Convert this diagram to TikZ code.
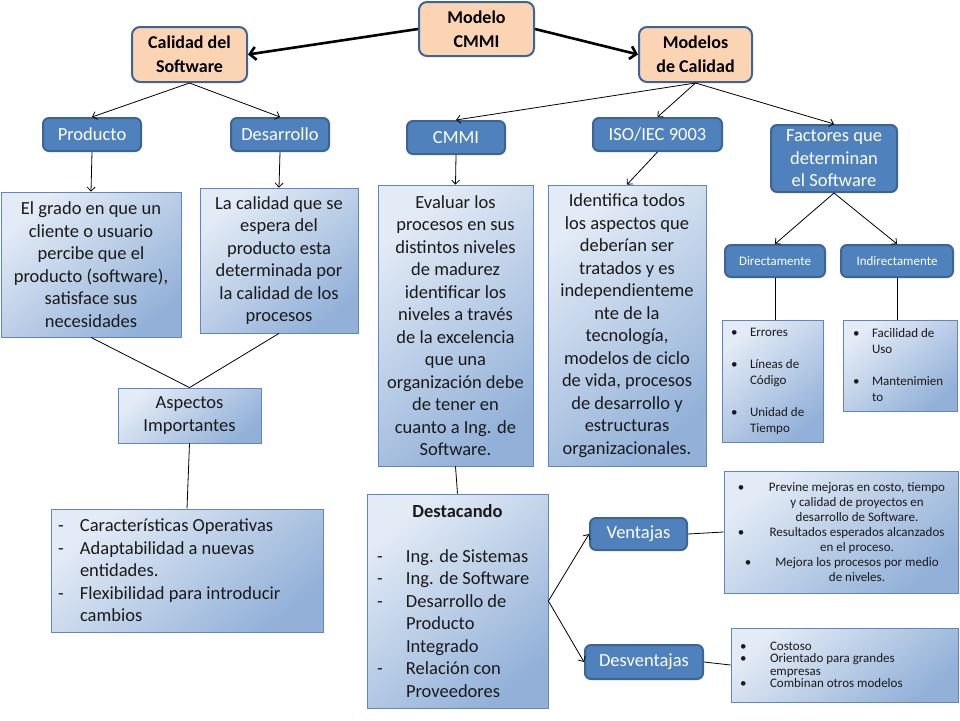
\documentclass[tikz,border=0pt]{standalone}
\usepackage{fontspec}
\setmainfont{Carlito}
\usetikzlibrary{arrows.meta}

\definecolor{peachfill}{HTML}{FBD4B4}
\definecolor{nodeline}{HTML}{3D6495}
\definecolor{bluefill}{HTML}{4F81BD}
\definecolor{shadelight}{HTML}{E3EBF6}
\definecolor{shadedark}{HTML}{93B1D8}
\definecolor{infoline}{HTML}{5D86C2}
\definecolor{textdark}{HTML}{1A1A1A}

\tikzset{
  mainbox/.style={draw=nodeline, line width=2pt, fill=peachfill, rounded corners=8pt,
    font=\bfseries\fontsize{18}{24}\selectfont, align=center, inner sep=0pt},
  bluebox/.style={draw=nodeline, line width=2pt, fill=bluefill, rounded corners=6pt,
    text=white, font=\fontsize{18.5}{22.5}\selectfont, align=center, inner sep=0pt},
  smallblue/.style={bluebox, font=\fontsize{13}{16}\selectfont},
  infobox/.style={draw=infoline, line width=0.8pt, top color=shadelight, bottom color=shadedark,
    shading angle=40, text=textdark, font=\fontsize{18.5}{22.5}\selectfont, align=center, inner sep=0pt},
  listbox/.style={infobox, align=flush left, inner ysep=0pt},
  conn/.style={-{Straight Barb[length=4pt,width=8pt]}, line width=0.8pt},
  thickconn/.style={-{Straight Barb[length=6pt,width=13pt]}, line width=2.6pt},
  link/.style={line width=0.8pt}
}

\begin{document}
\begin{tikzpicture}[x=1pt,y=-1pt]
\useasboundingbox (0,0) rectangle (960,720);

% main concepts
\node[mainbox, minimum width=115pt, minimum height=54pt] (mcmmi) at (476.5,29) {Modelo\\CMMI};
\node[mainbox, minimum width=115pt, minimum height=55pt] (calsw) at (189.5,54.5) {Calidad del\\Software};
\node[mainbox, minimum width=113pt, minimum height=55pt] (modcal) at (695.5,54.5) {Modelos\\de Calidad};

% second level
\node[bluebox, minimum width=98pt, minimum height=33pt] (producto) at (92,134.5) {Producto};
\node[bluebox, minimum width=98pt, minimum height=33pt] (desarrollo) at (280,134.5) {Desarrollo};
\node[bluebox, minimum width=98pt, minimum height=33pt] (cmmi) at (456,137.5) {CMMI};
\node[bluebox, minimum width=129pt, minimum height=33pt] (iso) at (657.5,134.5) {ISO/IEC 9003};
\node[bluebox, minimum width=126pt, minimum height=67pt] (factores) at (834,158.5) {Factores que\\determinan\\el Software};
\node[smallblue, minimum width=100pt, minimum height=32pt] (directa) at (775,261) {Directamente};
\node[smallblue, minimum width=112pt, minimum height=32pt] (indirecta) at (897,261) {Indirectamente};

% descriptions
\node[infobox, minimum width=180pt, minimum height=145pt] (grado) at (91,264.5)
  {El grado en que un\\cliente o usuario\\percibe que el\\producto (software),\\satisface sus\\necesidades};
\node[infobox, minimum width=158pt, minimum height=145pt] (lacal) at (279,260.5)
  {La calidad que se\\espera del\\producto esta\\determinada por\\la calidad de los\\procesos};
\node[infobox, minimum width=155pt, minimum height=281pt] (evaluar) at (455.5,325.5)
  {Evaluar los\\procesos en sus\\distintos niveles\\de madurez\\identificar los\\niveles a través\\de la excelencia\\que una\\organización debe\\de tener en\\cuanto a Ing. de\\Software.};
\node[infobox, minimum width=158pt, minimum height=281pt] (identifica) at (627,325.5)
  {Identifica todos\\los aspectos que\\deberían ser\\tratados y es\\independienteme\\nte de la\\tecnología,\\modelos de ciclo\\de vida, procesos\\de desarrollo y\\estructuras\\organizacionales.};
\node[infobox, minimum width=143pt, minimum height=55pt] (aspectos) at (189.5,415.5) {Aspectos\\Importantes};

% lists
\node[listbox, text width=258pt, inner xsep=7pt, minimum height=123pt] (caract) at (187,570.5)
  {\makebox[22pt][l]{-}Características Operativas\\
   \makebox[22pt][l]{-}Adaptabilidad a nuevas\\
   \hspace*{22pt}entidades.\\
   \makebox[22pt][l]{-}Flexibilidad para introducir\\
   \hspace*{22pt}cambios};
\node[listbox, text width=161pt, inner xsep=10pt, minimum height=214pt] (destac) at (457.5,601)
  {\makebox[161pt][c]{\bfseries Destacando}\\[22.5pt]
   \makebox[29pt][l]{-}Ing. de Sistemas\\
   \makebox[29pt][l]{-}Ing. de Software\\
   \makebox[29pt][l]{-}Desarrollo de\\
   \hspace*{29pt}Producto\\
   \hspace*{29pt}Integrado\\
   \makebox[29pt][l]{-}Relación con\\
   \hspace*{29pt}Proveedores};
\node[listbox, text width=83pt, inner xsep=9pt, minimum height=122pt, font=\fontsize{13}{16}\selectfont] (errores) at (772.5,381)
  {\makebox[19pt][l]{\textbullet}Errores\\[16pt]
   \makebox[19pt][l]{\textbullet}Líneas de\\
   \hspace*{19pt}Código\\[16pt]
   \makebox[19pt][l]{\textbullet}Unidad de\\
   \hspace*{19pt}Tiempo};
\node[listbox, text width=94pt, inner xsep=10pt, minimum height=91pt, font=\fontsize{13}{16}\selectfont] (facil) at (900,365.5)
  {\makebox[19pt][l]{\textbullet}Facilidad de\\
   \hspace*{19pt}Uso\\[16pt]
   \makebox[19pt][l]{\textbullet}Mantenimien\\
   \hspace*{19pt}to};

% ventajas / desventajas
\node[bluebox, minimum width=97pt, minimum height=32pt] (ventajas) at (638.5,534) {Ventajas};
\node[bluebox, minimum width=118pt, minimum height=34pt] (desvent) at (644,662) {Desventajas};
\node[listbox, minimum width=234pt, minimum height=122pt, font=\fontsize{13}{15}\selectfont] (ventlist) at (841,532)
  {\makebox[32pt][c]{\textbullet}\makebox[200pt][c]{Previne mejoras en costo, tiempo}\\
   \hspace*{32pt}\makebox[200pt][c]{y calidad de proyectos en}\\
   \hspace*{32pt}\makebox[200pt][c]{desarrollo de Software.}\\
   \makebox[32pt][c]{\textbullet}\makebox[200pt][c]{Resultados esperados alcanzados}\\
   \hspace*{32pt}\makebox[200pt][c]{en el proceso.}\\
   \makebox[32pt][c]{\hspace{14pt}\textbullet}\makebox[200pt][c]{Mejora los procesos por medio}\\
   \hspace*{32pt}\makebox[200pt][c]{de niveles.}};
\node[listbox, text width=209pt, inner xsep=9pt, minimum height=74pt, font=\fontsize{13}{12.5}\selectfont] (desvlist) at (844.5,665)
  {\makebox[30pt][l]{\textbullet}Costoso\\
   \makebox[30pt][l]{\textbullet}Orientado para grandes\\
   \hspace*{30pt}empresas\\
   \makebox[30pt][l]{\textbullet}Combinan otros modelos};

% connectors
\draw[thickconn] (mcmmi.west) -- (calsw.east);
\draw[thickconn] (mcmmi.east) -- (modcal.west);
\draw[conn] (calsw.south) -- (producto.north);
\draw[conn] (calsw.south) -- (desarrollo.north);
\draw[conn] (modcal.south) -- (cmmi.north);
\draw[conn] (modcal.south) -- (iso.north);
\draw[conn] (modcal.south) -- (factores.north);
\draw[conn] (producto.south) -- (grado.north);
\draw[conn] (desarrollo.south) -- (lacal.north);
\draw[conn] (cmmi.south) -- (evaluar.north);
\draw[conn] (iso.south) -- (identifica.north);
\draw[conn] (factores.south) -- (directa.north);
\draw[conn] (factores.south) -- (indirecta.north);
\draw[link] (directa.south) -- (directa.south |- errores.north);
\draw[link] (indirecta.south) -- (indirecta.south |- facil.north);
\draw[link] (grado.south) -- (aspectos.north);
\draw[link] (lacal.south) -- (aspectos.north);
\draw[link] (aspectos.south) -- (caract.north);
\draw[link] (evaluar.south) -- (destac.north);
\draw[conn] (destac.east) -- (ventajas.west);
\draw[conn] (destac.east) -- (desvent.west);
\draw[link] (ventajas.east) -- (ventlist.west);
\draw[link] (desvent.east) -- (desvlist.west);
\end{tikzpicture}
\end{document}
